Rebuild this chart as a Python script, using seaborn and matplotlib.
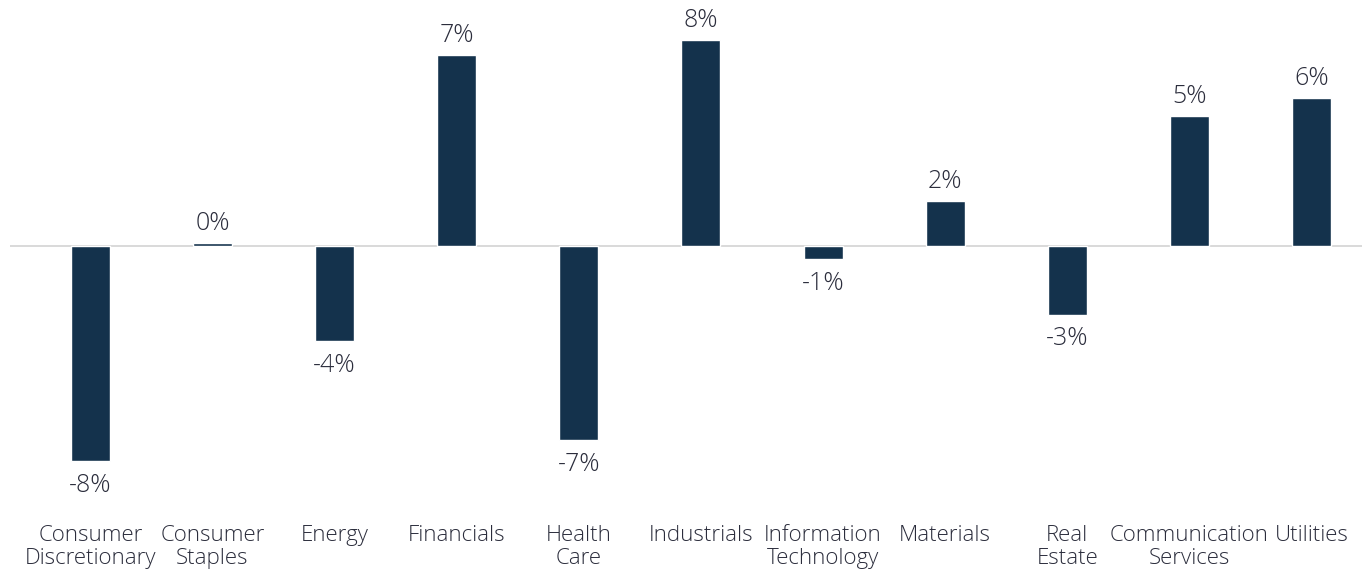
import matplotlib
matplotlib.use("Agg")
import matplotlib.pyplot as plt
import seaborn as sns
import pandas as pd

sectors = ["Consumer\nDiscretionary", "Consumer\nStaples", "Energy", "Financials",
           "Health\nCare", "Industrials", "Information\nTechnology", "Materials",
           "Real\nEstate", "Communication\nServices", "Utilities"]
returns = [-8.27, 0.1, -3.65, 7.35, -7.46, 7.92, -0.52, 1.74, -2.64, 5.0, 5.69]

bar_color = "#14324c"
text_color = "#2b2d3c"

sns.set_theme(style="white")
plt.rcParams["font.family"] = ["Open Sans", "DejaVu Sans"]

df = pd.DataFrame({"sector": sectors, "ret": returns})

fig = plt.figure(figsize=(13.64, 5.72), dpi=100)
ax = fig.add_axes([10 / 1364, 72 / 572, 1352 / 1364, 500 / 572])

sns.barplot(data=df, x="sector", y="ret", color=bar_color, saturation=1,
            width=0.32, ax=ax)

ax.axhline(0, color="#d0d0d0", lw=1.1, zorder=0)

for i, v in enumerate(returns):
    off = 5 if v >= 0 else -8.5
    ax.annotate(f"{v:.0f}%", (i, v), xytext=(0, off), textcoords="offset points",
                ha="center", va="bottom" if v >= 0 else "top",
                fontsize=18, color=text_color, fontweight="light")

ax.set_xlim(-0.659, 10.414)
ax.set_ylim(-9.77, 9.46)
ax.set_xlabel("")
ax.set_ylabel("")
ax.set_yticks([])
ax.tick_params(axis="x", length=0, pad=18, labelsize=16, labelcolor=text_color)
for lab in ax.get_xticklabels():
    lab.set_fontweight("light")
    lab.set_linespacing(1.1)
sns.despine(ax=ax, left=True, bottom=True)

fig.savefig("out.png", dpi=100)
